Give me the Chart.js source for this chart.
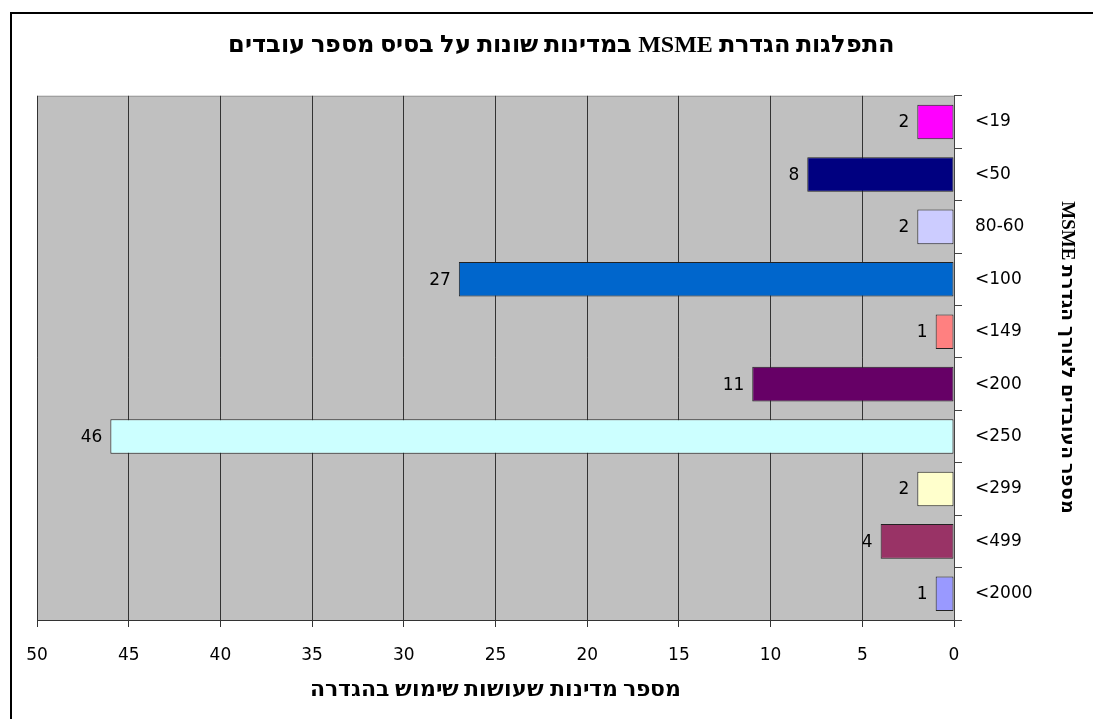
<!DOCTYPE html>
<html lang="he">
<head>
<meta charset="utf-8">
<title>MSME</title>
<script src="https://cdn.jsdelivr.net/npm/chart.js@4.4.1/dist/chart.umd.min.js"></script>
<style>
  html, body { margin: 0; padding: 0; background: #fff; }
  #wrap { width: 1093px; height: 719px; position: relative; }
  /* Hebrew letters from a bold sans, latin (MSME) stays serif */
  @font-face {
    font-family: 'HebSans';
    src: local('DejaVu Sans Bold'), local('DejaVuSans-Bold');
    font-weight: bold;
    unicode-range: U+0590-05FF;
  }
</style>
</head>
<body>
<div id="wrap"><canvas id="barchart"></canvas></div>
<script>
// data
const categories = ['<19', '<50', '80-60', '<100', '<149', '<200', '<250', '<299', '<499', '<2000'];
const counts = [2, 8, 2, 27, 1, 11, 46, 2, 4, 1];
const barColors = ['#FF00FF', '#000080', '#CCCCFF', '#0066CC', '#FF8080',
                   '#660066', '#CCFFFF', '#FFFFCC', '#993366', '#9999FF'];
const xTicks = [0, 5, 10, 15, 20, 25, 30, 35, 40, 45, 50];

const chartTitle = 'התפלגות הגדרת MSME במדינות שונות על בסיס מספר עובדים';
const xTitle = 'מספר מדינות שעושות שימוש בהגדרה';
const yTitle = 'מספר העובדים לצורך הגדרת MSME';

// right-to-left embedding so the canvas orders the words correctly
const rtl = s => '\u202B' + s + '\u202C';

const tickFont = { family: 'DejaVu Sans', size: 17 };
const hebFamily = 'HebSans, "Liberation Serif", "DejaVu Sans", serif';

// gray plot area + outer frame
const plotBackground = {
    id: 'plotBackground',
    beforeDraw(chart) {
        const { ctx, chartArea: a } = chart;
        ctx.save();
        ctx.fillStyle = '#C0C0C0';
        ctx.fillRect(a.left, a.top, a.right - a.left, a.bottom - a.top);
        ctx.strokeStyle = '#999';
        ctx.lineWidth = 1;
        ctx.beginPath();
        ctx.moveTo(a.left, a.top + 0.5);
        ctx.lineTo(a.right, a.top + 0.5);
        ctx.stroke();
        ctx.strokeStyle = '#000';
        ctx.lineWidth = 2;
        ctx.beginPath();
        ctx.moveTo(11, chart.height + 5);
        ctx.lineTo(11, 13);
        ctx.lineTo(chart.width + 5, 13);
        ctx.stroke();
        ctx.restore();
    }
};

// value labels left of each bar
const barLabels = {
    id: 'barLabels',
    afterDatasetsDraw(chart) {
        const { ctx } = chart;
        const meta = chart.getDatasetMeta(0);
        ctx.save();
        ctx.font = '17px "DejaVu Sans"';
        ctx.fillStyle = '#000';
        ctx.textAlign = 'right';
        ctx.textBaseline = 'middle';
        meta.data.forEach(function (bar, i) {
            ctx.fillText(String(counts[i]), bar.x - 8, bar.y + 1);
        });
        ctx.restore();
    }
};

function draw() {
    const ctx = document.getElementById('barchart');

    new Chart(ctx, {
        type: 'bar',
        data: {
            labels: categories,
            datasets: [{
                data: counts,
                backgroundColor: barColors,
                borderColor: '#222',
                borderWidth: 1,
                borderSkipped: false,
                barPercentage: 0.66,
                categoryPercentage: 1
            }]
        },
        plugins: [plotBackground, barLabels],
        options: {
            indexAxis: 'y',
            responsive: true,
            maintainAspectRatio: false,
            animation: false,
            layout: { padding: { left: 37, right: 8, top: 0, bottom: 10 } },
            scales: {
                x: {
                    reverse: true,
                    min: 0,
                    max: 50,
                    afterBuildTicks(scale) {
                        scale.ticks = xTicks.map(v => ({ value: v }));
                    },
                    afterFit(scale) { scale.height = 89; },
                    grid: { color: '#333', lineWidth: 1, tickLength: 7, tickColor: '#333' },
                    border: { color: '#333', width: 1 },
                    ticks: { color: '#000', font: tickFont, padding: 18, maxRotation: 0 },
                    title: {
                        display: true,
                        text: rtl(xTitle),
                        color: '#000',
                        font: { family: hebFamily, size: 22, weight: 'bold' },
                        padding: { top: 0, bottom: 5 }
                    }
                },
                y: {
                    position: 'right',
                    afterFit(scale) { scale.width = 131; },
                    grid: { drawOnChartArea: false, tickLength: 8, color: '#444', offset: true },
                    border: { color: '#444', width: 1 },
                    ticks: { color: '#000', font: tickFont, padding: 13 },
                    title: {
                        display: true,
                        text: rtl(yTitle),
                        color: '#000',
                        font: { family: hebFamily, size: 19, weight: 'bold' },
                        padding: { top: 7, bottom: 0 }
                    }
                }
            },
            plugins: {
                legend: { display: false },
                tooltip: { enabled: false },
                title: {
                    display: true,
                    text: rtl(chartTitle),
                    color: '#000',
                    font: { family: hebFamily, size: 24, weight: 'bold' },
                    padding: { top: 31, bottom: 36 }
                }
            }
        }
    });
}

document.fonts.load('bold 20px HebSans', 'אב').then(draw, draw);
</script>
</body>
</html>
